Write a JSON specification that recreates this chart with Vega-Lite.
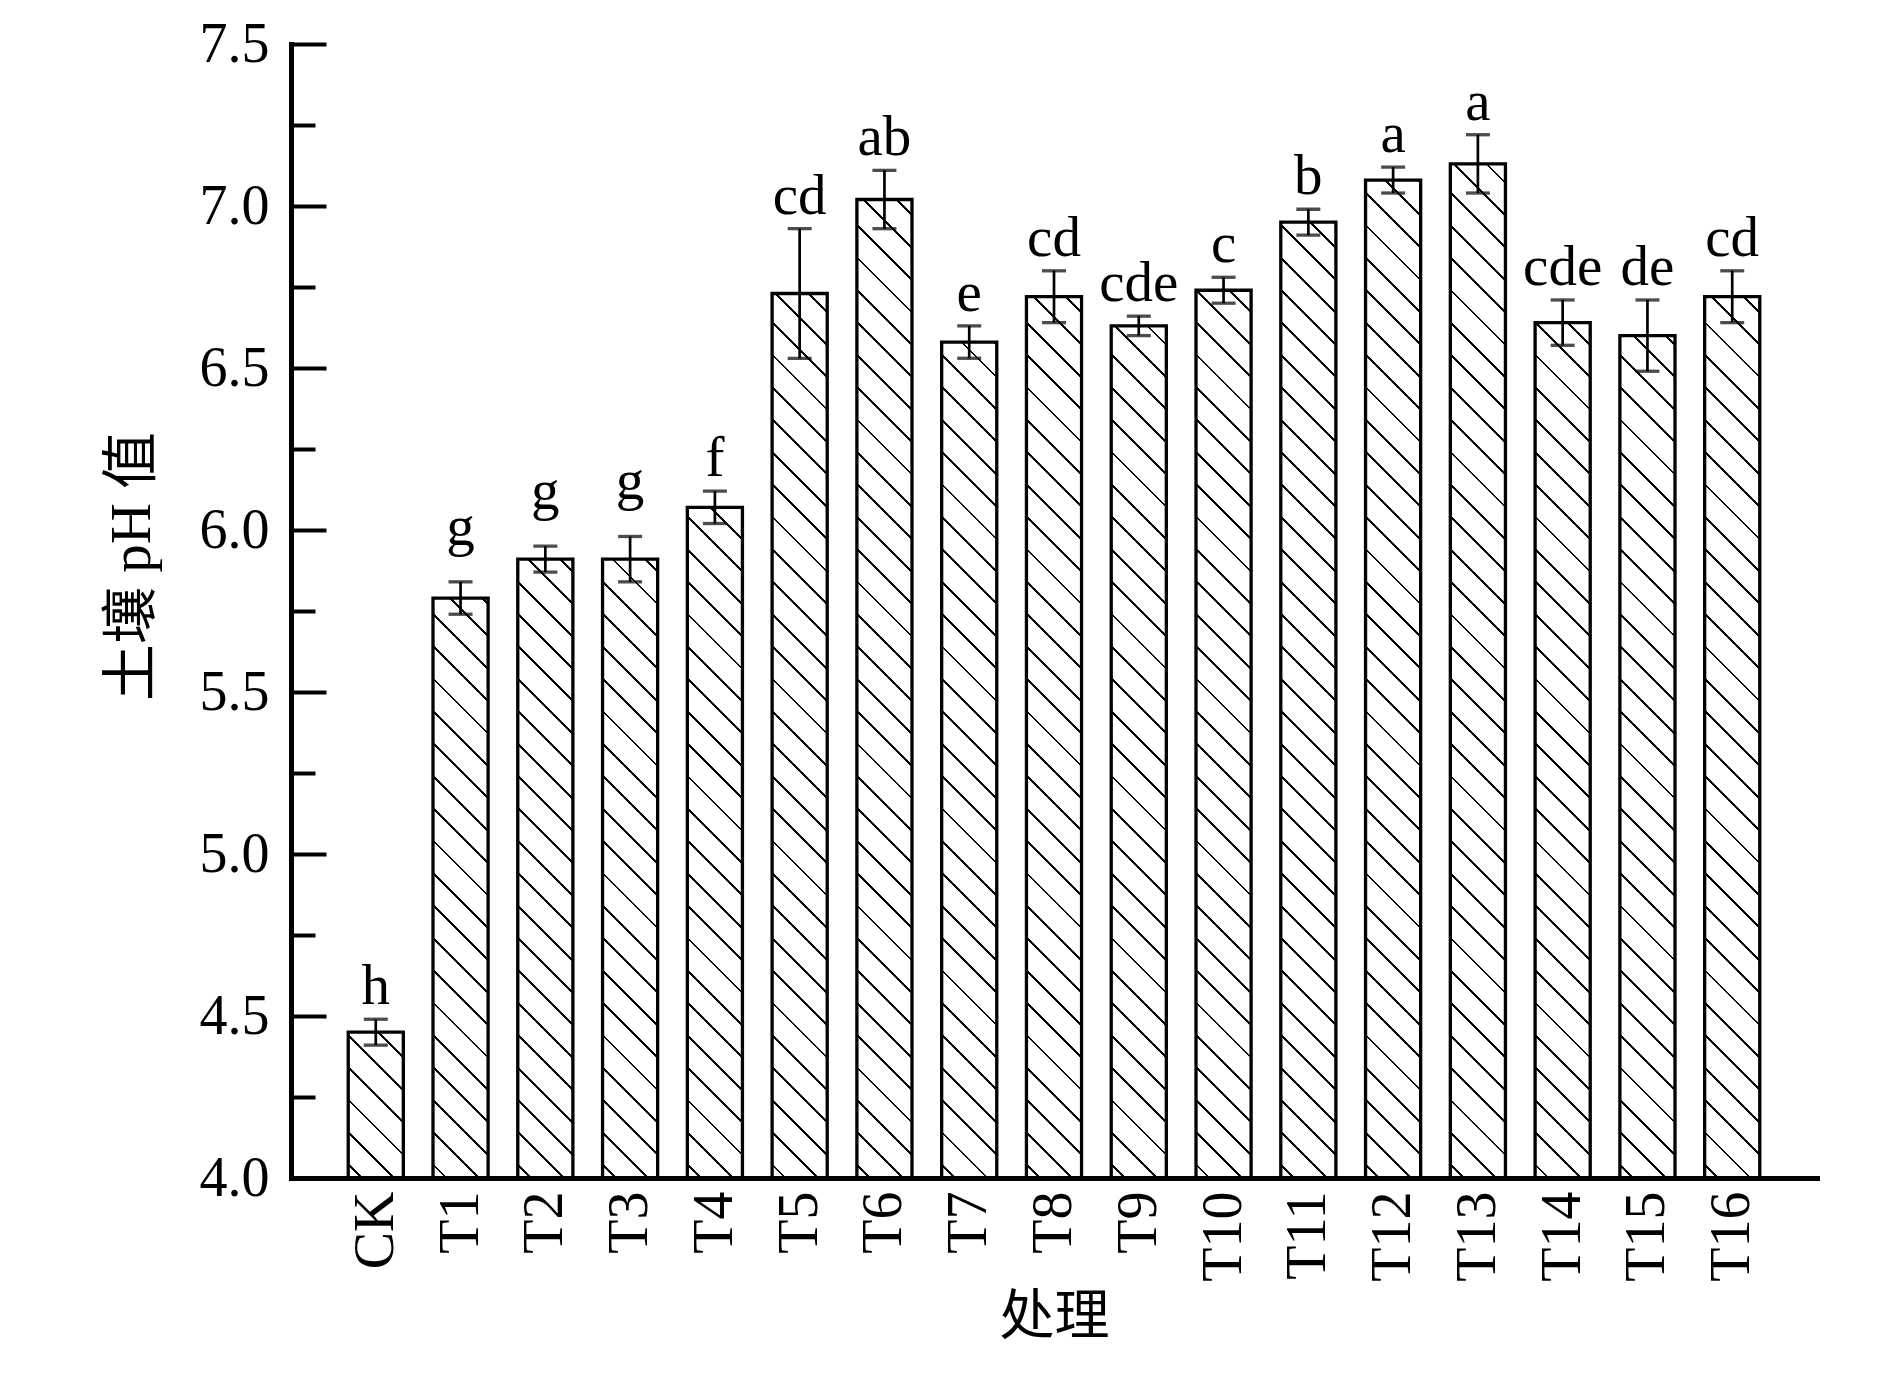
{
  "$schema": "https://vega.github.io/schema/vega-lite/v6.json",
  "width": 1526,
  "height": 1134,
  "autosize": "none",
  "padding": {"left": 291, "top": 44, "right": 73, "bottom": 201},
  "background": "white",
  "config": {"view": {"stroke": null}},
  "data": {
    "values": [
      {"t": "CK", "mean": 4.45, "lo": 4.41, "hi": 4.49, "g": "h"},
      {"t": "T1", "mean": 5.79, "lo": 5.74, "hi": 5.84, "g": "g"},
      {"t": "T2", "mean": 5.91, "lo": 5.87, "hi": 5.95, "g": "g"},
      {"t": "T3", "mean": 5.91, "lo": 5.84, "hi": 5.98, "g": "g"},
      {"t": "T4", "mean": 6.07, "lo": 6.02, "hi": 6.12, "g": "f"},
      {"t": "T5", "mean": 6.73, "lo": 6.53, "hi": 6.93, "g": "cd"},
      {"t": "T6", "mean": 7.02, "lo": 6.93, "hi": 7.11, "g": "ab"},
      {"t": "T7", "mean": 6.58, "lo": 6.53, "hi": 6.63, "g": "e"},
      {"t": "T8", "mean": 6.72, "lo": 6.64, "hi": 6.80, "g": "cd"},
      {"t": "T9", "mean": 6.63, "lo": 6.60, "hi": 6.66, "g": "cde"},
      {"t": "T10", "mean": 6.74, "lo": 6.70, "hi": 6.78, "g": "c"},
      {"t": "T11", "mean": 6.95, "lo": 6.91, "hi": 6.99, "g": "b"},
      {"t": "T12", "mean": 7.08, "lo": 7.04, "hi": 7.12, "g": "a"},
      {"t": "T13", "mean": 7.13, "lo": 7.04, "hi": 7.22, "g": "a"},
      {"t": "T14", "mean": 6.64, "lo": 6.57, "hi": 6.71, "g": "cde"},
      {"t": "T15", "mean": 6.60, "lo": 6.49, "hi": 6.71, "g": "de"},
      {"t": "T16", "mean": 6.72, "lo": 6.64, "hi": 6.80, "g": "cd"}
    ]
  },
  "encoding": {
    "x": {
      "field": "t", "type": "nominal", "sort": null,
      "scale": {"paddingInner": 0.35, "paddingOuter": 0.675},
      "axis": {
        "title": "处理",
        "titleFont": "Liberation Serif, Noto Sans CJK SC",
        "titleFontSize": 55, "titleFontWeight": "normal", "titleColor": "black",
        "titleY": 138, "titleBaseline": "middle",
        "labelAngle": 270, "labelAlign": "right", "labelBaseline": "middle",
        "labelFont": "Liberation Serif", "labelFontSize": 56, "labelColor": "black",
        "labelPadding": 13, "ticks": false,
        "domainColor": "black", "domainWidth": 5, "domainCap": "square",
        "grid": false, "zindex": 1
      }
    }
  },
  "resolve": {"axis": {"y": "independent"}},
  "layer": [
    {
      "encoding": {
        "fill": {
          "value": {
            "gradient": "linear",
            "x1": 0, "y1": 1, "x2": 0.4086, "y2": -0.2013,
            "stops": [
              {"offset": 0, "color": "#ffffff"},
              {"offset": 0.0553, "color": "#ffffff"}, {"offset": 0.0553, "color": "#000000"}, {"offset": 0.0683, "color": "#000000"}, {"offset": 0.0683, "color": "#ffffff"},
              {"offset": 0.2045, "color": "#ffffff"}, {"offset": 0.2045, "color": "#000000"}, {"offset": 0.2175, "color": "#000000"}, {"offset": 0.2175, "color": "#ffffff"},
              {"offset": 0.3537, "color": "#ffffff"}, {"offset": 0.3537, "color": "#000000"}, {"offset": 0.3667, "color": "#000000"}, {"offset": 0.3667, "color": "#ffffff"},
              {"offset": 0.5030, "color": "#ffffff"}, {"offset": 0.5030, "color": "#000000"}, {"offset": 0.5160, "color": "#000000"}, {"offset": 0.5160, "color": "#ffffff"},
              {"offset": 0.6522, "color": "#ffffff"}, {"offset": 0.6522, "color": "#000000"}, {"offset": 0.6652, "color": "#000000"}, {"offset": 0.6652, "color": "#ffffff"},
              {"offset": 0.8015, "color": "#ffffff"}, {"offset": 0.8015, "color": "#000000"}, {"offset": 0.8145, "color": "#000000"}, {"offset": 0.8145, "color": "#ffffff"},
              {"offset": 0.9507, "color": "#ffffff"}, {"offset": 0.9507, "color": "#000000"}, {"offset": 0.9637, "color": "#000000"}, {"offset": 0.9637, "color": "#ffffff"},
              {"offset": 1, "color": "#ffffff"}
            ]
          }
        }
      },
      "layer": [
        {"mark": {"type": "rect", "strokeWidth": 0}, "encoding": {"y": {"datum": 4.0, "type": "quantitative", "axis": null, "scale": {"domain": [4, 7.5], "nice": false, "zero": false}}, "y2": {"datum": 4.5}}},
        {"mark": {"type": "rect", "strokeWidth": 0}, "encoding": {"y": {"datum": 4.5, "type": "quantitative", "axis": null}, "y2": {"datum": 5.0}}},
        {"mark": {"type": "rect", "strokeWidth": 0}, "encoding": {"y": {"datum": 5.0, "type": "quantitative", "axis": null}, "y2": {"datum": 5.5}}},
        {"mark": {"type": "rect", "strokeWidth": 0}, "encoding": {"y": {"datum": 5.5, "type": "quantitative", "axis": null}, "y2": {"datum": 6.0}}},
        {"mark": {"type": "rect", "strokeWidth": 0}, "encoding": {"y": {"datum": 6.0, "type": "quantitative", "axis": null}, "y2": {"datum": 6.5}}},
        {"mark": {"type": "rect", "strokeWidth": 0}, "encoding": {"y": {"datum": 6.5, "type": "quantitative", "axis": null}, "y2": {"datum": 7.0}}},
        {"mark": {"type": "rect", "strokeWidth": 0}, "encoding": {"y": {"datum": 7.0, "type": "quantitative", "axis": null}, "y2": {"datum": 7.5}}}
      ]
    },
    {
      "mark": {"type": "rect", "fill": "white", "strokeWidth": 0, "width": {"band": 1.1}},
      "encoding": {
        "y": {
          "field": "mean", "type": "quantitative",
          "axis": {
            "orient": "left",
            "values": [4.25, 4.75, 5.25, 5.75, 6.25, 6.75, 7.25],
            "domain": false, "labels": false, "title": null, "grid": false,
            "tickSize": -24, "tickWidth": 4, "tickColor": "black", "zindex": 1
          }
        },
        "y2": {"datum": 7.5}
      }
    },
    {
      "mark": {"type": "rect", "filled": false, "stroke": "black", "strokeWidth": 3.3},
      "encoding": {
        "y": {
          "field": "mean", "type": "quantitative",
          "axis": {
            "orient": "left",
            "values": [4, 4.5, 5, 5.5, 6, 6.5, 7, 7.5],
            "format": ".1f",
            "domainColor": "black", "domainWidth": 5, "domainCap": "square",
            "tickColor": "black", "tickWidth": 4, "tickSize": -35,
            "labelPadding": 57, "labelFont": "Liberation Serif", "labelFontSize": 56, "labelColor": "black",
            "labelFlush": false, "labelOverlap": false, "grid": false,
            "title": "土壤 pH 值",
            "titleFont": "Liberation Serif, Noto Sans CJK SC",
            "titleFontSize": 57, "titleFontWeight": "normal", "titleColor": "black",
            "titleAngle": 270, "titleX": -159, "titleY": 522, "titleBaseline": "middle", "titleAlign": "center",
            "zindex": 1
          }
        },
        "y2": {"datum": 4.0}
      }
    },
    {
      "mark": {"type": "rule", "color": "black", "strokeWidth": 2.7},
      "encoding": {"y": {"field": "lo", "type": "quantitative", "axis": null}, "y2": {"field": "hi"}}
    },
    {
      "mark": {"type": "tick", "color": "black", "size": 24, "thickness": 3.3},
      "encoding": {"y": {"field": "lo", "type": "quantitative", "axis": null}}
    },
    {
      "mark": {"type": "tick", "color": "black", "size": 24, "thickness": 3.3},
      "encoding": {"y": {"field": "hi", "type": "quantitative", "axis": null}}
    },
    {
      "transform": [{"filter": "datum.g !== 'g'"}],
      "mark": {"type": "text", "font": "Liberation Serif", "fontSize": 57, "baseline": "alphabetic", "dy": -15, "color": "black"},
      "encoding": {"y": {"field": "hi", "type": "quantitative", "axis": null}, "text": {"field": "g"}}
    },
    {
      "transform": [{"filter": "datum.g === 'g'"}],
      "mark": {"type": "text", "font": "Liberation Serif", "fontSize": 57, "baseline": "alphabetic", "dy": -37, "color": "black"},
      "encoding": {"y": {"field": "hi", "type": "quantitative", "axis": null}, "text": {"field": "g"}}
    }
  ]
}
